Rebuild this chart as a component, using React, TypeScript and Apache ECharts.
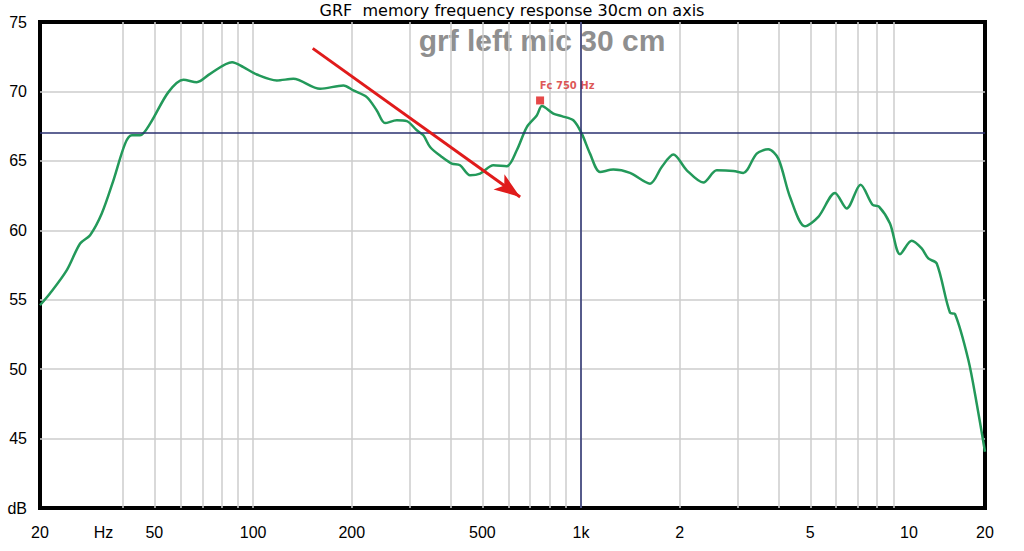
import { useEffect, useRef } from 'react';
import * as echarts from 'echarts';

const freqHz = [22.4, 24.05, 27.04, 29.69, 31.84, 34.56, 37.51, 40.72, 42.68, 45.23, 48.53, 55.18, 61.31, 67.33, 73.94, 86.3, 93.4, 102.6, 118.1, 132.7, 160.1, 188.5, 202.2, 222.2, 238.3, 252.6, 274.2, 294.2, 315.6, 330.6, 346.5, 376.2, 403.4, 427.6, 458.7, 492.2, 540.3, 593.6, 636.8, 683.3, 732.8, 760, 823.2, 873.4, 947.3, 1005, 1065, 1143, 1254, 1410, 1623, 1762, 1912, 2101, 2360, 2593, 2913, 3125, 3433, 3724, 3995, 4337, 4818, 5290, 5948, 6458, 7116, 7740, 8100, 8750, 9389, 10190, 10930, 11450, 12150, 13340, 13810, 15170, 16080, 17050];
const splDb = [54.6, 55.46, 57.13, 59.05, 59.65, 61.21, 63.6, 66.24, 66.84, 66.84, 67.68, 69.95, 70.84, 70.67, 71.27, 72.1, 71.75, 71.22, 70.79, 70.91, 70.19, 70.43, 70.07, 69.59, 68.63, 67.72, 67.92, 67.86, 67.2, 66.84, 66.0, 65.28, 64.8, 64.68, 63.96, 64.08, 64.68, 64.61, 65.76, 67.43, 68.27, 68.95, 68.4, 68.22, 67.92, 66.96, 65.52, 64.2, 64.37, 64.13, 63.36, 64.56, 65.45, 64.32, 63.44, 64.32, 64.27, 64.13, 65.52, 65.83, 65.16, 62.4, 60.29, 60.96, 62.69, 61.57, 63.28, 61.84, 61.71, 60.49, 58.28, 59.24, 58.69, 57.97, 57.61, 54.06, 53.97, 50.66, 47.55, 44.05];

// axis range of the plot
const freqMin = 22.4;
const freqMax = 17050;
const dbMin = 40;
const dbMax = 75;

// vertical grid lines
const gridFreqs = [30, 40, 50, 60, 70, 80, 90, 100, 200, 300, 400, 500, 600, 700, 800, 900, 1000, 2000, 3000, 4000, 5000, 6000, 7000, 8000, 9000, 10000];

// x tick labels
const labelFreqs = [freqMin, 35, 50, 100, 200, 500, 1000, 2000, 5000, 10000, freqMax];
const labelTexts = ['20', 'Hz', '50', '100', '200', '500', '1k', '2', '5', '10', '20'];

// crosshair
const crossHz = 1000;
const crossDb = 67;

// Fc marker
const fcHz = 750;
const fcDb = 69.35;
const fcLabel = 'Fc 750 Hz';

// red arrow (Hz, dB)
const arrowStart = [152, 73.1];
const arrowEnd = [652, 62.4];

const FONT = 'Arial, "Liberation Sans", sans-serif';
const WIDE = '"DejaVu Sans", Verdana, sans-serif';

export default function App() {
  const chartRef = useRef<HTMLDivElement>(null);

  useEffect(() => {
    if (!chartRef.current) return;
    document.body.style.margin = '0';
    const chart = echarts.init(chartRef.current, null, { renderer: 'svg' });

    const lg = (f: number) => Math.log10(f);
    const curve = freqHz.map((f, i) => [lg(f), splDb[i]]);

    const option: echarts.EChartsOption = {
      animation: false,
      backgroundColor: '#fff',
      title: {
        text: 'GRF  memory frequency response 30cm on axis',
        left: 'center',
        top: 2,
        padding: 0,
        textStyle: { fontFamily: WIDE, fontSize: 16, fontWeight: 'normal', color: '#000' },
      },
      graphic: [
        {
          type: 'text',
          x: 542,
          y: 40,
          style: {
            text: 'grf left mic 30 cm',
            fontFamily: FONT,
            fontSize: 30,
            fontWeight: 'bold',
            fill: '#8f8f8f',
            align: 'center',
            verticalAlign: 'middle',
          },
        },
      ],
      grid: {
        left: 40,
        right: 39,
        top: 22,
        bottom: 43,
        show: true,
        borderColor: '#000',
        borderWidth: 4,
      },
      xAxis: {
        type: 'value',
        min: lg(freqMin),
        max: lg(freqMax),
        axisLine: { show: false },
        axisTick: { show: false, customValues: gridFreqs.map(lg) },
        splitLine: {
          show: true,
          showMinLine: false,
          showMaxLine: false,
          lineStyle: { color: '#cccccc', width: 1.5 },
        },
        axisLabel: {
          customValues: labelFreqs.map(lg),
          margin: 16,
          fontFamily: FONT,
          fontSize: 16,
          color: '#000',
          showMinLabel: true,
          showMaxLabel: true,
          formatter: (v: number) => {
            const i = labelFreqs.findIndex((f) => Math.abs(lg(f) - v) < 1e-6);
            return i >= 0 ? labelTexts[i] : '';
          },
        },
      },
      yAxis: {
        type: 'value',
        min: dbMin,
        max: dbMax,
        interval: 5,
        axisLine: { show: false },
        axisTick: { show: false },
        splitLine: {
          show: true,
          showMinLine: false,
          showMaxLine: false,
          lineStyle: { color: '#cccccc', width: 1.5 },
        },
        axisLabel: {
          margin: 13,
          fontFamily: FONT,
          fontSize: 16,
          color: '#000',
          formatter: (v: number) => (v === dbMin ? 'dB' : String(v)),
        },
      },
      series: [
        {
          type: 'line',
          data: curve,
          smooth: 0.3,
          showSymbol: false,
          lineStyle: { color: '#23995a', width: 2.5 },
          silent: true,
          markLine: {
            silent: true,
            symbol: 'none',
            label: { show: false },
            lineStyle: { color: '#2a3170', width: 1.5, type: 'solid' },
            data: [{ xAxis: lg(crossHz) }, { yAxis: crossDb }],
          },
        },
        {
          type: 'line',
          data: [],
          silent: true,
          markLine: {
            silent: true,
            label: { show: false },
            symbolSize: [14, 26],
            lineStyle: { color: '#e01b1b', width: 3, type: 'solid' },
            data: [
              [
                { coord: [lg(arrowStart[0]), arrowStart[1]], symbol: 'none' },
                { coord: [lg(arrowEnd[0]), arrowEnd[1]], symbol: 'arrow' },
              ],
            ],
          },
        },
        {
          type: 'scatter',
          data: [[lg(fcHz), fcDb]],
          symbol: 'rect',
          symbolSize: 8,
          silent: true,
          itemStyle: { color: '#e01b1b' },
          label: {
            show: true,
            position: 'top',
            distance: 6,
            offset: [27, 0],
            formatter: fcLabel,
            fontFamily: WIDE,
            fontSize: 10,
            fontWeight: 'bold',
            color: '#d42a2a',
          },
        },
      ],
    };

    chart.setOption(option);
    return () => {
      chart.dispose();
    };
  }, []);

  return <div ref={chartRef} style={{ width: 1024, height: 551 }} />;
}
